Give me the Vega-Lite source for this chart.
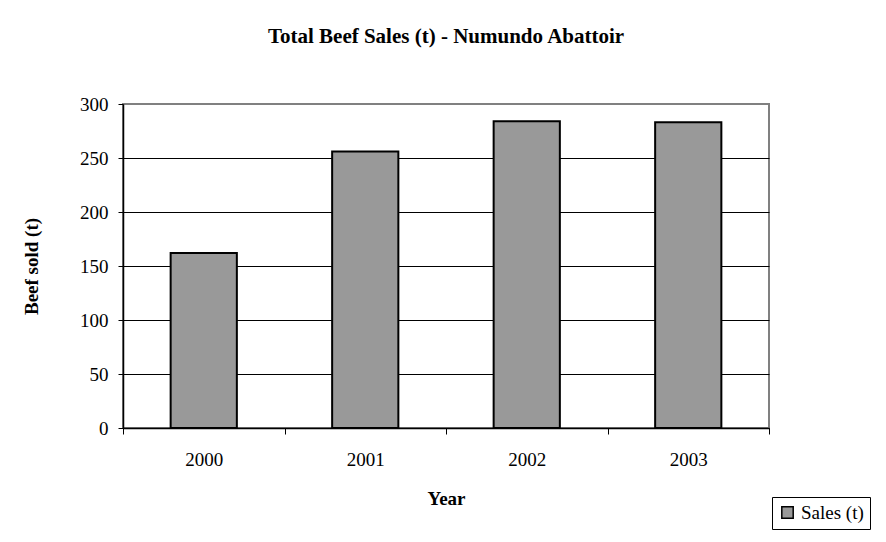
{
  "$schema": "https://vega.github.io/schema/vega-lite/v6.json",
  "width": 646,
  "height": 324,
  "autosize": "none",
  "padding": {"left": 123, "top": 104, "right": 117, "bottom": 114},
  "background": "white",
  "title": {
    "text": "Total Beef Sales (t) - Numundo Abattoir",
    "font": "Liberation Serif",
    "fontSize": 21,
    "fontWeight": "bold",
    "color": "black",
    "anchor": "middle",
    "offset": 48
  },
  "config": {
    "view": {"stroke": "#808080", "strokeWidth": 2},
    "axis": {
      "labelFont": "Liberation Serif",
      "titleFont": "Liberation Serif",
      "labelFontSize": 19,
      "titleFontSize": 19,
      "labelColor": "black",
      "titleColor": "black",
      "domainColor": "black",
      "tickColor": "black",
      "domainWidth": 1.5,
      "tickWidth": 1
    }
  },
  "data": {
    "values": [
      {"year": "2000", "sales": 162, "series": "Sales (t)"},
      {"year": "2001", "sales": 256, "series": "Sales (t)"},
      {"year": "2002", "sales": 284, "series": "Sales (t)"},
      {"year": "2003", "sales": 283, "series": "Sales (t)"}
    ]
  },
  "mark": {"type": "bar", "stroke": "black", "strokeWidth": 2, "width": {"band": 0.41}},
  "encoding": {
    "x": {
      "field": "year",
      "type": "nominal",
      "scale": {"paddingInner": 0, "paddingOuter": 0},
      "axis": {
        "title": "Year",
        "labelAngle": 0,
        "tickBand": "extent",
        "tickSize": 6,
        "labelPadding": 16,
        "titlePadding": 20,
        "grid": false
      }
    },
    "y": {
      "field": "sales",
      "type": "quantitative",
      "scale": {"domain": [0, 300]},
      "axis": {
        "title": "Beef sold (t)",
        "values": [0, 50, 100, 150, 200, 250, 300],
        "tickSize": 5,
        "labelPadding": 10,
        "titlePadding": 38,
        "grid": true,
        "gridColor": {"condition": {"test": "datum.value === 300", "value": "#808080"}, "value": "black"},
        "gridWidth": 1,
        "gridOpacity": 1
      }
    },
    "color": {
      "field": "series",
      "type": "nominal",
      "scale": {"range": ["#999999"]},
      "legend": {
        "title": null,
        "orient": "none",
        "legendX": 649,
        "legendY": 393,
        "strokeColor": "black",
        "fillColor": "white",
        "padding": 6,
        "symbolType": "square",
        "symbolSize": 130,
        "symbolStrokeColor": "black",
        "symbolStrokeWidth": 1.5,
        "symbolOpacity": 1,
        "labelFont": "Liberation Serif",
        "labelFontSize": 19,
        "labelColor": "black"
      }
    }
  }
}
